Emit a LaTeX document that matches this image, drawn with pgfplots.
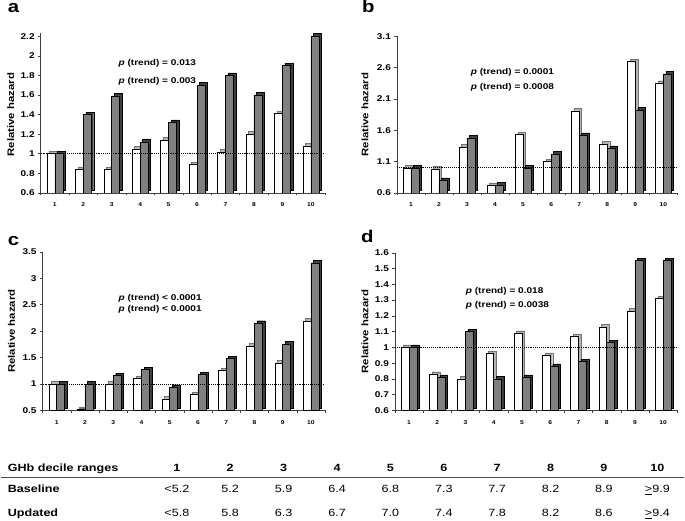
\documentclass[border=0pt]{standalone}
\usepackage{pgfplots}
\pgfplotsset{compat=1.18}
\usepackage{fontspec}
\setmainfont[FakeStretch=1.2]{Liberation Sans}
\definecolor{barg}{RGB}{128,128,128}
\definecolor{bargs}{RGB}{62,62,62}
\definecolor{barws}{RGB}{180,180,180}
\pgfplotsset{
  panel/.style={
    scale only axis, anchor=south west,
    axis lines*=left, axis line style={-, black!75, line width=0.6pt},
    xmin=0.5, xmax=10.5,
    xtick={0.5,1.5,2.5,3.5,4.5,5.5,6.5,7.5,8.5,9.5,10.5},
    x tick label as interval,
    xticklabels={1,2,3,4,5,6,7,8,9,10},
    tick align=outside, major tick length=2.5pt,
    tick style={black!75, line width=0.5pt},
    /pgf/number format/assume math mode=true,
    xticklabel style={font=\fontsize{5.6}{6}\selectfont\bfseries, yshift=-4pt},
    yticklabel style={font=\fontsize{8.4}{9}\selectfont\bfseries},
    ylabel={Relative hazard},
    ylabel style={font=\fontsize{9.5}{10}\selectfont\bfseries, anchor=center},
  },
  wsh/.style={ybar, bar width=0.28, bar shift=-0.14, fill=barws, draw=black!55, line width=0.4pt, xshift=2.5pt, yshift=2.5pt},
  wbar/.style={ybar, bar width=0.28, bar shift=-0.14, fill=white, draw=black, line width=0.5pt},
  gsh/.style={ybar, bar width=0.28, bar shift=0.14, fill=bargs, draw=black, line width=0.4pt, xshift=2.5pt, yshift=2.5pt},
  gbar/.style={ybar, bar width=0.28, bar shift=0.14, fill=barg, draw=black, line width=0.5pt},
  refl/.style={black, densely dotted, line width=0.9pt},
}
\newcommand{\pt}[1]{{\itshape p} (trend) #1}
\begin{document}
\begin{tikzpicture}[x=1pt,y=1pt]
\path (0,0) rectangle (685,521);

% ---------- panel a ----------
\pgfplotstableread{
x w g
1 1.00 1.00
2 0.84 1.40
3 0.84 1.59
4 1.05 1.12
5 1.14 1.32
6 0.89 1.70
7 1.02 1.80
8 1.20 1.60
9 1.41 1.90
10 1.08 2.20
}\dataA
\begin{axis}[panel, at={(40pt,328pt)}, width=285pt, height=160pt,
  ymin=0.6, ymax=2.23, ytick={0.6,0.8,1.0,1.2,1.4,1.6,1.8,2.0,2.2},
  ylabel style={at={(axis description cs:-0.105,0.49)}}]
\addplot[wsh] table[x=x,y=w]{\dataA};
\addplot[wbar] table[x=x,y=w]{\dataA};
\addplot[gsh] table[x=x,y=g]{\dataA};
\addplot[gbar] table[x=x,y=g]{\dataA};
\addplot[refl] coordinates {(0.5,1) (10.5,1)};
\end{axis}

% ---------- panel b ----------
\pgfplotstableread{
x w g
1 1.00 1.00
2 0.98 0.80
3 1.33 1.48
4 0.72 0.73
5 1.53 1.00
6 1.10 1.22
7 1.91 1.52
8 1.38 1.31
9 2.70 1.92
10 2.35 2.50
}\dataB
\begin{axis}[panel, at={(397pt,328pt)}, width=281pt, height=157pt,
  ymin=0.6, ymax=3.1, ytick={0.6,1.1,1.6,2.1,2.6,3.1},
  ylabel style={at={(axis description cs:-0.114,0.5)}}]
\addplot[wsh] table[x=x,y=w]{\dataB};
\addplot[wbar] table[x=x,y=w]{\dataB};
\addplot[gsh] table[x=x,y=g]{\dataB};
\addplot[gbar] table[x=x,y=g]{\dataB};
\addplot[refl] coordinates {(0.5,1) (10.5,1)};
\end{axis}

% ---------- panel c ----------
\pgfplotstableread{
x w g
1 1.00 1.00
2 0.52 1.00
3 1.00 1.16
4 1.10 1.27
5 0.72 0.94
6 0.80 1.18
7 1.26 1.48
8 1.72 2.15
9 1.40 1.76
10 2.19 3.29
}\dataC
\begin{axis}[panel, at={(42pt,110pt)}, width=283pt, height=159pt,
  ymin=0.5, ymax=3.5, ytick={0.5,1,1.5,2,2.5,3,3.5},
  ylabel style={at={(axis description cs:-0.110,0.5)}}]
\addplot[wsh] table[x=x,y=w]{\dataC};
\addplot[wbar] table[x=x,y=w]{\dataC};
\addplot[gsh] table[x=x,y=g]{\dataC};
\addplot[gbar] table[x=x,y=g]{\dataC};
\addplot[refl] coordinates {(0.5,1) (10.5,1)};
\end{axis}

% ---------- panel d ----------
\pgfplotstableread{
x w g
1 1.00 1.00
2 0.83 0.81
3 0.80 1.10
4 0.96 0.80
5 1.09 0.81
6 0.95 0.88
7 1.07 0.91
8 1.13 1.03
9 1.23 1.55
10 1.31 1.55
}\dataD
\begin{axis}[panel, at={(395pt,110pt)}, width=283pt, height=158pt,
  ymin=0.6, ymax=1.6, ytick={0.6,0.7,0.8,0.9,1.0,1.1,1.2,1.3,1.4,1.5,1.6},
  ylabel style={at={(axis description cs:-0.106,0.5)}}]
\addplot[wsh] table[x=x,y=w]{\dataD};
\addplot[wbar] table[x=x,y=w]{\dataD};
\addplot[gsh] table[x=x,y=g]{\dataD};
\addplot[gbar] table[x=x,y=g]{\dataD};
\addplot[refl] coordinates {(0.5,1) (10.5,1)};
\end{axis}

% panel letters
\begin{scope}[every node/.style={font=\fontsize{17}{18}\selectfont\bfseries, anchor=base west, inner sep=0pt}]
\node at (7,509) {a};
\node at (362,509) {b};
\node at (7,275) {c};
\node at (361,278) {d};
\end{scope}

% p trend annotations
\begin{scope}[every node/.style={font=\fontsize{8.4}{9}\selectfont\bfseries, anchor=west, inner sep=0pt}]
\node at (118,458) {\pt{= 0.013}};
\node at (118,440) {\pt{= 0.003}};
\node at (471,449) {\pt{= 0.0001}};
\node at (471,434) {\pt{= 0.0008}};
\node at (118,222) {\pt{< 0.0001}};
\node at (118,211) {\pt{< 0.0001}};
\node at (466,229) {\pt{= 0.018}};
\node at (466,215) {\pt{= 0.0038}};
\end{scope}

% table
\draw[black!70, line width=1.4pt] (0,43) -- (685,43);
\begin{scope}[every node/.style={font=\fontsize{10.5}{11}\selectfont, anchor=base, inner sep=0pt}]
\node[anchor=base west, font=\fontsize{10.5}{11}\selectfont\bfseries] at (7,49) {GHb decile ranges};
\node[anchor=base west, font=\fontsize{10.5}{11}\selectfont\bfseries] at (7,27.7) {Baseline};
\node[anchor=base west, font=\fontsize{10.5}{11}\selectfont\bfseries] at (7,3.3) {Updated};
\foreach \h [count=\i from 0] in {1,2,3,4,5,6,7,8,9,10}
  \node[font=\fontsize{10.5}{11}\selectfont\bfseries] at (176.5+53.5*\i,49) {\h};
\foreach \v [count=\i from 0] in {<5.2,5.2,5.9,6.4,6.8,7.3,7.7,8.2,8.9,\underline{>}9.9}
  \node at (176.5+53.5*\i,27.7) {\v};
\foreach \v [count=\i from 0] in {<5.8,5.8,6.3,6.7,7.0,7.4,7.8,8.2,8.6,\underline{>}9.4}
  \node at (176.5+53.5*\i,3.3) {\v};
\end{scope}
\end{tikzpicture}
\end{document}
